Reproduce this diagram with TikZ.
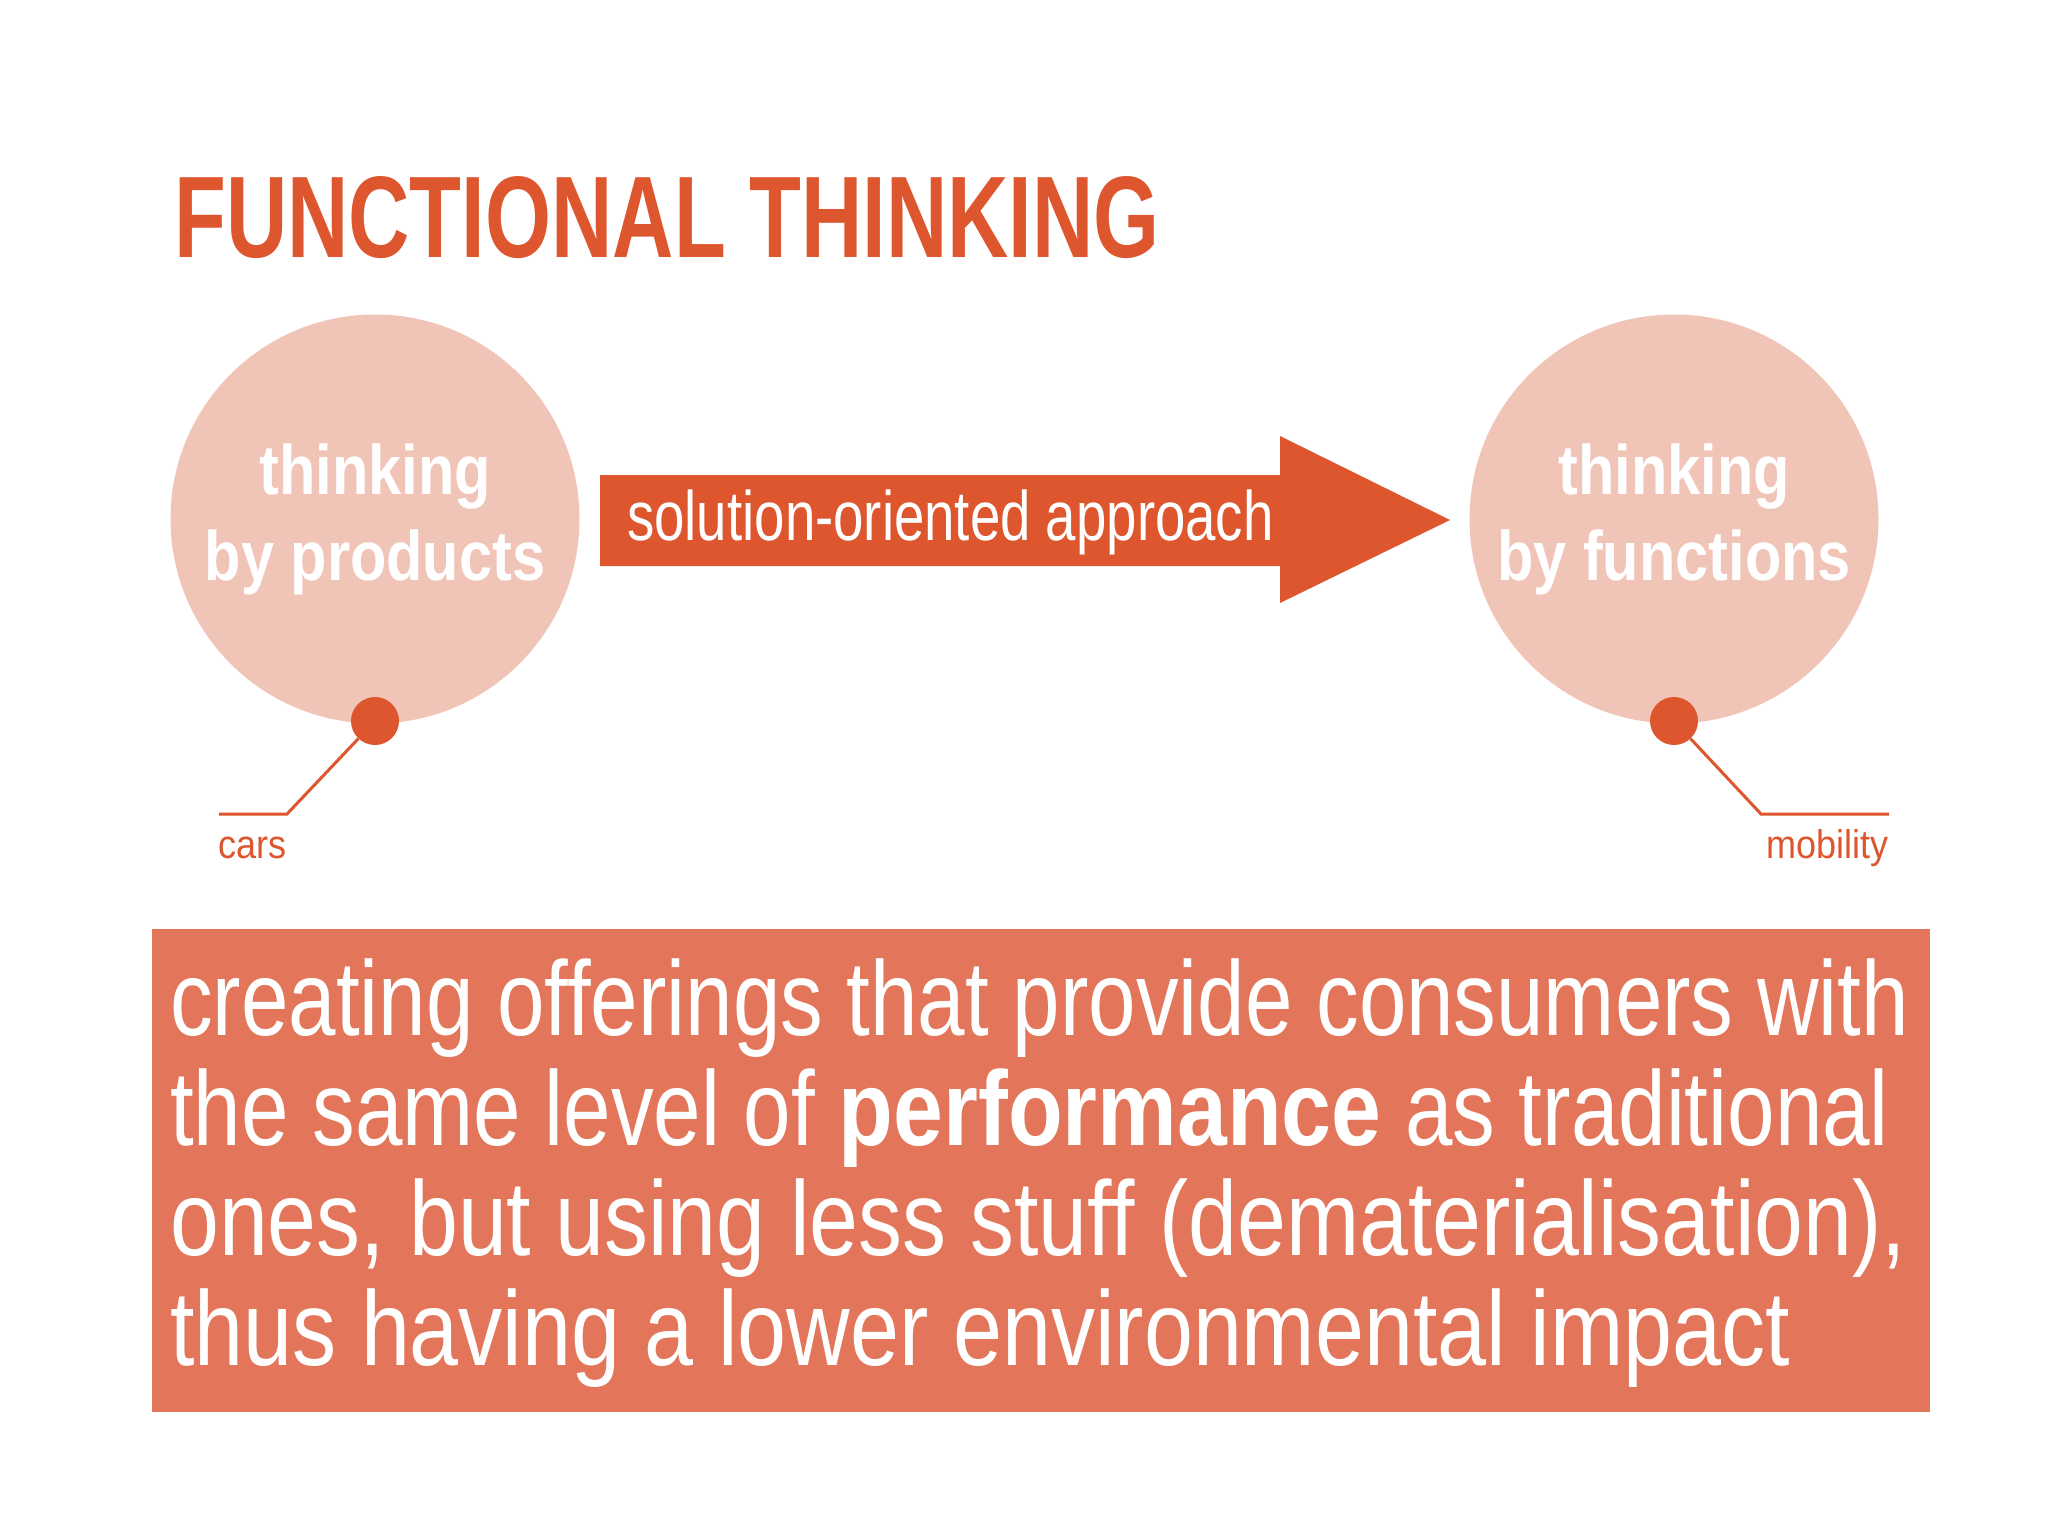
\documentclass[tikz,border=0pt]{standalone}
\usepackage{fontspec}
\usepackage{graphicx}
\setmainfont{Liberation Sans}
\newfontfamily\titlefont{Liberation Sans}[FakeStretch=0.732]
\newfontfamily\circfont{Liberation Sans}[FakeStretch=0.85]
\newfontfamily\arrowfont{Liberation Sans}[FakeStretch=0.78]
\newfontfamily\bodyfont{Liberation Sans}[FakeStretch=0.805]
\newfontfamily\bodybold{Liberation Sans}[FakeStretch=0.845]
\newfontfamily\labelfont{Liberation Sans}[FakeStretch=0.9]
\definecolor{accent}{RGB}{221,86,46}
\definecolor{pale}{RGB}{241,196,184}
\definecolor{boxfill}{RGB}{227,118,90}
\tikzset{
  bigcircle/.style={circle, fill=pale, minimum size=409pt, inner sep=0pt, align=center,
    text=white, font=\circfont\bfseries\fontsize{70}{86}\selectfont},
  dotnode/.style={circle, fill=accent, minimum size=48pt, inner sep=0pt},
  leader/.style={draw=accent, line width=3pt},
  smalllabel/.style={text=accent, inner sep=0pt, font=\labelfont\fontsize{40}{48}\selectfont},
}
\begin{document}
\begin{tikzpicture}[x=1pt,y=-1pt]
\useasboundingbox[fill=white] (0,0) rectangle (2048,1536);
% title
\node[anchor=base west, inner sep=0pt, text=accent, font=\titlefont\bfseries\fontsize{116}{120}\selectfont] (title) at (174,257) {FUNCTIONAL THINKING};
% circles
\node[bigcircle] (prod) at (375,519) {thinking\\by products};
\node[bigcircle] (func) at (1674,519) {thinking\\by functions};
% arrow
\coordinate (a1) at (600,475);
\coordinate (a2) at (1280,475);
\coordinate (a3) at (1280,436);
\coordinate (tip) at (1450,520);
\coordinate (a5) at (1280,603);
\coordinate (a6) at (1280,566);
\coordinate (a7) at (600,566);
\fill[accent] (a1) -- (a2) -- (a3) -- (tip) -- (a5) -- (a6) -- (a7) -- cycle;
\node[anchor=base west, inner sep=0pt, text=white, font=\arrowfont\fontsize{70}{80}\selectfont] (arrowtext) at (627,540) {solution-oriented approach};
% dots and leaders
\node[dotnode] (dotL) at (375,721) {};
\node[dotnode] (dotR) at (1674,721) {};
\coordinate (kneeL) at (287,814);
\coordinate (endL) at (219,814);
\coordinate (kneeR) at (1761,814);
\coordinate (endR) at (1889,814);
\draw[leader] (dotL) -- (kneeL) -- (endL);
\draw[leader] (dotR) -- (kneeR) -- (endR);
\node[smalllabel, anchor=base west] (cars) at (218,858) {cars};
\node[smalllabel, anchor=base east] (mob) at (1889,858) {mobility};
% bottom box
\fill[boxfill] (152,929) rectangle (1930,1412);
\node[anchor=base west, inner sep=0pt, text=white, font=\bodyfont\fontsize{106}{110}\selectfont] (body) at (170,1035)
  {\vtop{\hbox{creating offerings that provide consumers with}
         \hbox{the same level of {\bodybold\bfseries performance} as traditional}
         \hbox{\scalebox{1.029}[1]{ones, but using less stuff (dematerialisation),}}
         \hbox{\scalebox{1.032}[1]{thus having a lower environmental impact}}}};
\end{tikzpicture}
\end{document}
